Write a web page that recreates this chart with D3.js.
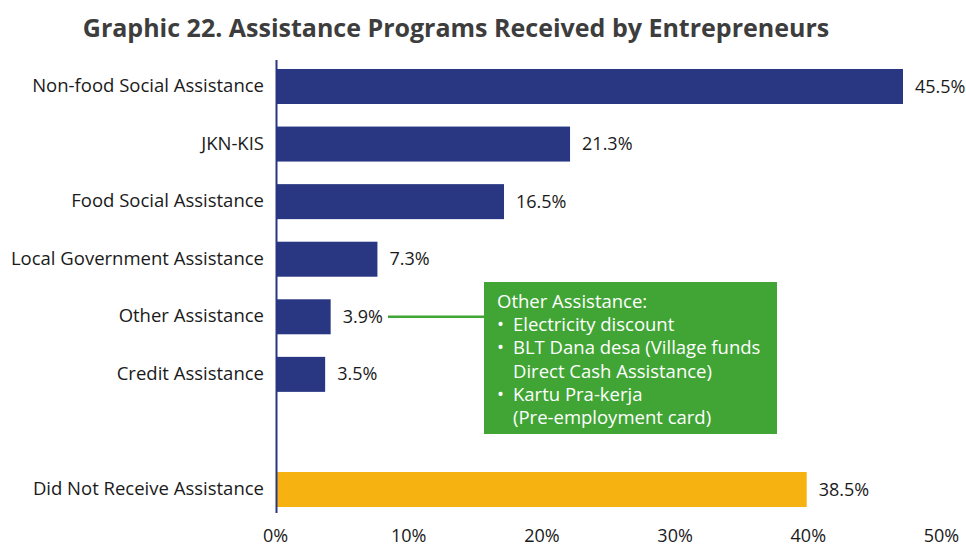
<!DOCTYPE html>
<html>
<head>
<meta charset="utf-8">
<script src="https://cdn.jsdelivr.net/npm/d3@7"></script>
<style>
  html, body { margin: 0; padding: 0; background: #ffffff; }
  svg { display: block; font-family: "Open Sans", sans-serif; }
</style>
</head>
<body>
<svg id="chart" width="966" height="548"></svg>
<script>
// Share of entrepreneurs receiving each assistance programme (%)
const categories = [
  "Non-food Social Assistance",
  "JKN-KIS",
  "Food Social Assistance",
  "Local Government Assistance",
  "Other Assistance",
  "Credit Assistance",
  "Did Not Receive Assistance"
];
const values = [45.5, 21.3, 16.5, 7.3, 3.9, 3.5, 38.5];
const received = [true, true, true, true, true, true, false];
const tickValues = [0, 10, 20, 30, 40, 50];

const noteTitle = "Other Assistance:";
const noteItems = [
  ["Electricity discount"],
  ["BLT Dana desa (Village funds", "Direct Cash Assistance)"],
  ["Kartu Pra-kerja", "(Pre-employment card)"]
];

const NAVY = "#293782";
const GOLD = "#F6B210";
const GREEN = "#40A535";
const TEXT = "#1a1a1a";

const svg = d3.select("#chart");

// Title
svg.append("text")
  .attr("x", 456).attr("y", 37)
  .attr("text-anchor", "middle")
  .attr("font-size", 25).attr("font-weight", 700)
  .attr("fill", "#3d3d3d")
  .text("Graphic 22. Assistance Programs Received by Entrepreneurs");

// Row slots: a blank slot separates the "did not receive" row
const SPACER = "__spacer__";
const slots = [...categories.slice(0, 6), SPACER, categories[6]];

const y = d3.scaleBand()
  .domain(slots)
  .range([57.7, 518.3])
  .paddingInner(0.392)
  .paddingOuter(0.196);

// Bar length scale
const x = d3.scaleLinear().domain([0, 45.5]).range([277, 903]);
// Scale for the axis tick labels along the bottom
const xAxisScale = d3.scaleLinear().domain([0, 50]).range([275, 941]);

const rows = categories.map((c, i) => ({ cat: c, val: values[i], got: received[i] }));

// Bars
svg.append("g").selectAll("rect")
  .data(rows)
  .join("rect")
  .attr("x", x(0))
  .attr("y", d => y(d.cat))
  .attr("width", d => x(d.val) - x(0))
  .attr("height", y.bandwidth())
  .attr("fill", d => d.got ? NAVY : GOLD);

// Value labels
svg.append("g").selectAll("text")
  .data(rows)
  .join("text")
  .attr("x", d => x(d.val) + 12)
  .attr("y", d => y(d.cat) + y.bandwidth() / 2)
  .attr("dy", "0.34em")
  .attr("font-size", 18)
  .attr("fill", TEXT)
  .text(d => d.val.toFixed(1) + "%");

// Category labels
svg.append("g").selectAll("text")
  .data(rows)
  .join("text")
  .attr("x", 264)
  .attr("y", d => y(d.cat) + y.bandwidth() / 2)
  .attr("dy", "0.3em")
  .attr("text-anchor", "end")
  .attr("font-size", 18.5)
  .attr("fill", TEXT)
  .text(d => d.cat);

// Vertical axis line
svg.append("line")
  .attr("x1", 276.5).attr("x2", 276.5)
  .attr("y1", 60).attr("y2", 513)
  .attr("stroke", NAVY).attr("stroke-width", 2);

// Bottom tick labels (no domain line or tick marks)
const xAxis = d3.axisBottom(xAxisScale)
  .tickValues(tickValues)
  .tickFormat(d => d + "%")
  .tickSize(0)
  .tickPadding(0);
const gx = svg.append("g")
  .attr("transform", "translate(0,542)")
  .call(xAxis);
gx.select(".domain").remove();
gx.selectAll("text")
  .attr("dy", 0)
  .attr("font-family", "Open Sans, sans-serif")
  .attr("font-size", 18)
  .attr("fill", TEXT);

// Callout for "Other Assistance"
const otherIdx = categories.indexOf("Other Assistance");
const cy = y(categories[otherIdx]) + y.bandwidth() / 2;
const box = { x: 484, y: 282, w: 293, h: 152 };

svg.append("line")
  .attr("x1", 388).attr("x2", box.x)
  .attr("y1", cy).attr("y2", cy)
  .attr("stroke", GREEN).attr("stroke-width", 2.5);

svg.append("rect")
  .attr("x", box.x).attr("y", box.y)
  .attr("width", box.w).attr("height", box.h)
  .attr("fill", GREEN);

const note = svg.append("g").attr("font-size", 18.5).attr("fill", "#ffffff");
const lineH = 23.2;
let baseY = box.y + 26;
note.append("text").attr("x", 497).attr("y", baseY).text(noteTitle);
noteItems.forEach(item => {
  item.forEach((ln, j) => {
    baseY += lineH;
    if (j === 0) {
      note.append("text").attr("x", 497).attr("y", baseY).text("\u2022");
    }
    note.append("text").attr("x", 513).attr("y", baseY).text(ln);
  });
});
</script>
</body>
</html>
